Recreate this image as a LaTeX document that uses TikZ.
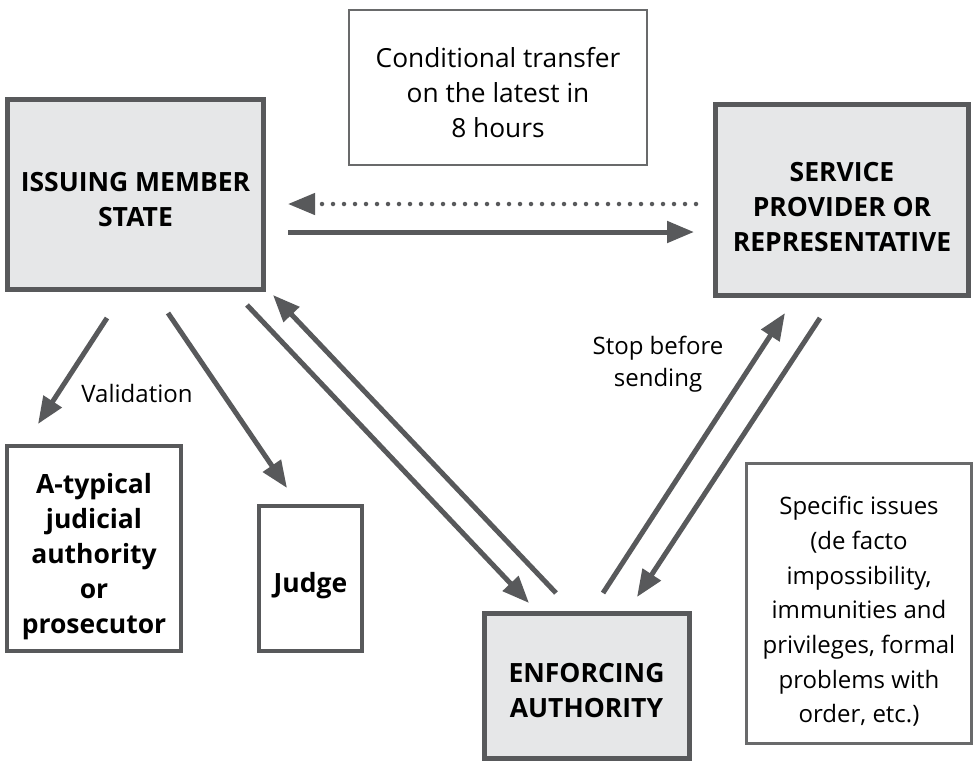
\documentclass[tikz,border=0pt]{standalone}
\usepackage{fontspec}
\setmainfont{Open Sans}
\usetikzlibrary{arrows.meta}
\definecolor{edge}{HTML}{58595B}
\definecolor{panel}{HTML}{E6E7E8}
\tikzset{
  x=1pt, y=-1pt,
  mainbox/.style={draw=edge, line width=5pt, fill=panel, inner sep=0pt},
  actorbox/.style={draw=edge, line width=4.5pt, fill=white, inner sep=0pt},
  notebox/.style={draw=edge!90, line width=2.2pt, fill=white, inner sep=0pt},
  boldtxt/.style={align=center, inner sep=0pt,
    font=\fontsize{26.5}{35}\selectfont\bfseries},
  notetxt/.style={align=center, inner sep=0pt,
    font=\fontsize{24}{34.7}\selectfont},
  lbl/.style={align=center, inner sep=0pt, font=\fontsize{24}{32}\selectfont},
  flow/.style={draw=edge, line width=5pt, -{Triangle[length=27pt,width=21pt]}},
  dotflow/.style={draw=edge, line width=4.5pt, line cap=round,
    dash pattern=on 0pt off 11pt, -{Triangle[length=27pt,width=21pt]}},
}
\begin{document}
\begin{tikzpicture}
\useasboundingbox (0,0) rectangle (976,761);

% boxes
\node[mainbox, minimum width=256pt, minimum height=190pt] (ims) at (135.5,194.5) {};
\node[mainbox, minimum width=253pt, minimum height=191pt] (srv) at (842,200) {};
\node[mainbox, minimum width=205pt, minimum height=145pt] (enf) at (586.5,685.5) {};
\node[actorbox, minimum width=174pt, minimum height=205pt] (aty) at (94,548.5) {};
\node[actorbox, minimum width=103pt, minimum height=145pt] (jdg) at (310.5,578.5) {};
\node[notebox, minimum width=298pt, minimum height=155pt] (cond) at (498,87.5) {};
\node[notebox, minimum width=225pt, minimum height=280pt] (spec) at (859,603.5) {};

% box texts, set slightly below the box centres
\node[boldtxt] (ims-t)  at ([yshift=-5.5pt]ims.center) {ISSUING MEMBER\\STATE};
\node[boldtxt] (srv-t)  at ([yshift=-7pt]srv.center) {SERVICE\\PROVIDER OR\\REPRESENTATIVE};
\node[boldtxt] (enf-t)  at ([yshift=-5pt]enf.center) {ENFORCING\\AUTHORITY};
\node[boldtxt] (aty-t)  at ([yshift=-8pt]aty.center) {A-typical\\judicial\\authority\\or\\prosecutor};
\node[boldtxt] (jdg-t)  at ([yshift=-7pt]jdg.center) {Judge};
\node[notetxt, font=\fontsize{26.3}{35}\selectfont] (cond-t) at ([yshift=-5pt]cond.center)
  {Conditional transfer\\on the latest in\\8 hours};
\node[notetxt] (spec-t) at ([yshift=-8pt]spec.center) {Specific issues\\(de facto\\impossibility,\\immunities and\\privileges, formal\\problems with\\order, etc.)};

% labels
\node[lbl] (val) at (137,393) {Validation};
\node[lbl] (stop) at (658,364) {Stop before\\sending};

% connector end points
\coordinate (ims-dotin)  at (288,204);
\coordinate (srv-dotout) at (696,204);
\coordinate (ims-out)    at (288,232);
\coordinate (srv-in)     at (694,232);
\coordinate (ims-val)    at (107,318);
\coordinate (aty-in)     at (38,424);
\coordinate (ims-jdg)    at (168,313);
\coordinate (jdg-in)     at (287,488);
\coordinate (ims-down)   at (247,305);
\coordinate (enf-in1)    at (529,603);
\coordinate (enf-out1)   at (556,593);
\coordinate (ims-in)     at (273,295);
\coordinate (enf-out2)   at (603,593);
\coordinate (srv-in2)    at (785,313);
\coordinate (srv-out)    at (820,318);
\coordinate (enf-in2)    at (637,597);

% connectors
\draw[dotflow] (srv-dotout) -- (ims-dotin);
\draw[flow] (ims-out) -- (srv-in);
\draw[flow] (ims-val) -- (aty-in);
\draw[flow] (ims-jdg) -- (jdg-in);
\draw[flow] (ims-down) -- (enf-in1);
\draw[flow] (enf-out1) -- (ims-in);
\draw[flow] (enf-out2) -- (srv-in2);
\draw[flow] (srv-out) -- (enf-in2);
\end{tikzpicture}
\end{document}
